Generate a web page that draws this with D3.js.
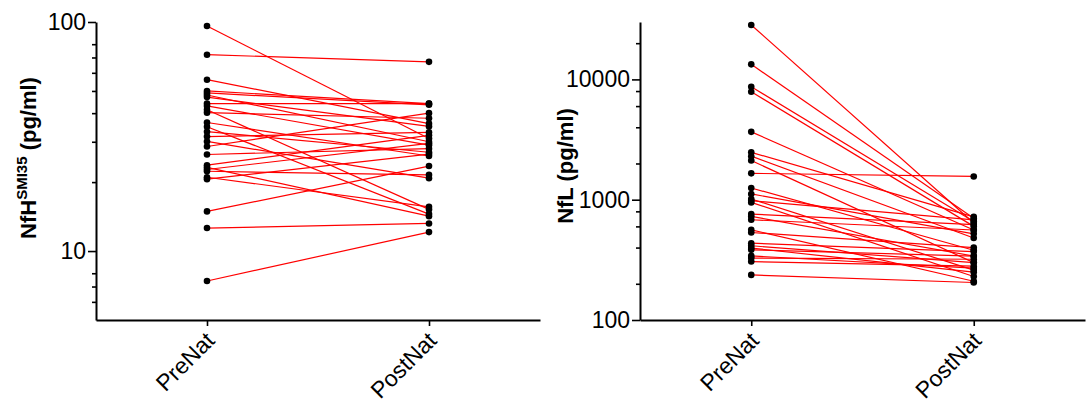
<!DOCTYPE html>
<html><head><meta charset="utf-8">
<script src="https://cdn.jsdelivr.net/npm/d3@7"></script>
<style>
body{margin:0;background:#fff;}
svg{display:block;font-family:"Liberation Sans",Arial,sans-serif;}
</style></head>
<body><svg id="chart" width="1088" height="409"></svg>
<script>
const categories = ["PreNat","PostNat"];

// Left panel: NfH SMI35 (pg/ml), paired values
const nfhPre  = [96, 72, 56, 50, 49, 48, 47, 44, 43, 41.4, 40.2, 36.4, 34.9, 33.2, 31.6, 30.1, 28.6, 26.4, 23.7, 23.2, 22.7, 22.3, 21, 20.6, 14.9, 12.6, 7.4];
const nfhPost = [31, 67, 36, 44, 43.5, 30, 35, 44, 29, 15.2, 38, 26, 14.5, 27, 33, 20.8, 40, 28, 32, 14.2, 29.5, 21.5, 15.6, 26.5, 23.5, 13.2, 12.1];
const nfhMajorTicks = [10, 100];
const nfhMinorTicks = [6, 7, 8, 20, 30, 40, 50, 60, 70, 80];

// Right panel: NfL (pg/ml), paired values
const nflPre  = [28350, 13335, 8690, 7900, 3665, 2477, 2300, 2115, 1656, 1252, 1116, 1013, 981, 950, 760, 726, 681, 562, 534, 435, 414, 396, 383, 341, 327, 306, 237];
const nflPost = [640, 700, 660, 600, 560, 720, 480, 300, 1560, 380, 520, 260, 680, 230, 620, 340, 560, 210, 400, 370, 300, 250, 340, 270, 320, 280, 205];
const nflMajorTicks = [100, 1000, 10000];
const nflMinorTicks = [200, 400, 600, 800, 2000, 4000, 6000, 8000, 20000];

const svg = d3.select("#chart");

function panel(opts){
  const g = svg.append("g");
  const x = d3.scalePoint().domain(categories).range([opts.x0, opts.x1]).padding(0.5);
  const y = d3.scaleLog().domain(opts.domain).range([320, 22]);
  const pairs = opts.pre.map((v,i)=>({pre:v, post:opts.post[i]}));

  g.selectAll("line.pair").data(pairs).enter().append("line")
    .attr("x1", x("PreNat")).attr("x2", x("PostNat"))
    .attr("y1", d=>y(d.pre)).attr("y2", d=>y(d.post))
    .attr("stroke", "#ff0000").attr("stroke-width", 1.2);

  const pts = [];
  pairs.forEach(d=>{pts.push({c:"PreNat",v:d.pre}); pts.push({c:"PostNat",v:d.post});});
  g.selectAll("circle").data(pts).enter().append("circle")
    .attr("cx", d=>x(d.c)).attr("cy", d=>y(d.v)).attr("r", 3.3).attr("fill", "#000");

  const ya = g.append("g").attr("transform", `translate(${opts.x0},0)`)
    .call(d3.axisLeft(y).tickValues(opts.major).tickFormat(d3.format("d")).tickSize(8).tickSizeOuter(0));
  ya.select(".domain").attr("stroke-width", 2);
  ya.selectAll(".tick line").attr("stroke-width", 1.6);
  ya.selectAll(".tick text").attr("font-size", 23).attr("x", -10).attr("fill","#000")
    .attr("font-family", "'Liberation Sans', Arial, sans-serif");
  const ym = g.append("g").attr("transform", `translate(${opts.x0},0)`)
    .call(d3.axisLeft(y).tickValues(opts.minor).tickFormat("").tickSize(4).tickSizeOuter(0));
  ym.select(".domain").remove();
  ym.selectAll(".tick line").attr("stroke-width", 1.6);

  const xa = g.append("g").attr("transform", "translate(0,320)")
    .call(d3.axisBottom(x).tickSize(6).tickSizeOuter(0).tickFormat(""));
  xa.select(".domain").attr("stroke-width", 2);
  xa.selectAll(".tick line").attr("stroke-width", 1.6);
  g.selectAll("text.cat").data(categories).enter().append("text")
    .attr("transform", d=>`translate(${x(d)+9},342) rotate(-45)`)
    .attr("text-anchor", "end").attr("font-size", 23).attr("fill", "#000")
    .text(d=>d);

  return g;
}

panel({x0:96, x1:540, domain:[5,100], pre:nfhPre, post:nfhPost, major:nfhMajorTicks, minor:nfhMinorTicks});
panel({x0:640, x1:1085, domain:[100,30000], pre:nflPre, post:nflPost, major:nflMajorTicks, minor:nflMinorTicks});

const l1 = svg.append("text").attr("transform", "translate(36,158) rotate(-90)")
  .attr("text-anchor", "middle").attr("font-size", 22).attr("font-weight", "bold");
l1.append("tspan").text("NfH");
l1.append("tspan").attr("font-size", 15).attr("dy", -9).text("SMI35");
l1.append("tspan").attr("dy", 9).text(" (pg/ml)");

svg.append("text").attr("transform", "translate(573,166) rotate(-90)")
  .attr("text-anchor", "middle").attr("font-size", 22).attr("font-weight", "bold")
  .text("NfL (pg/ml)");
</script></body></html>
